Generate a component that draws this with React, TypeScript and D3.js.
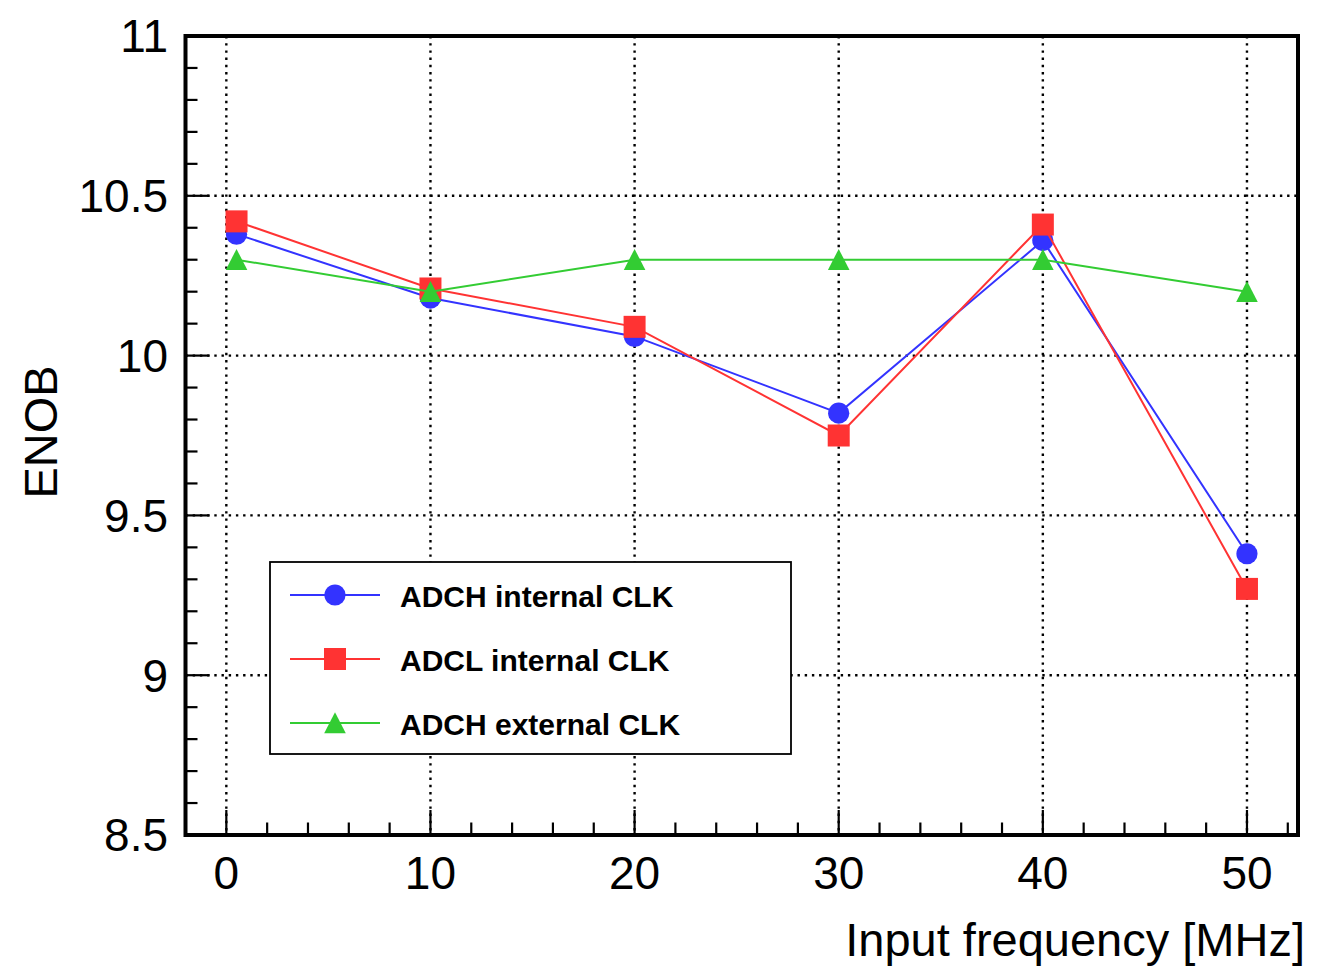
import React from "react";
import * as d3 from "d3";

const freqs = [0.5, 10, 20, 30, 40, 50];
const adchInternal = [10.38, 10.18, 10.06, 9.82, 10.36, 9.38];
const adclInternal = [10.42, 10.21, 10.09, 9.75, 10.41, 9.27];
const adchExternal = [10.3, 10.2, 10.3, 10.3, 10.3, 10.2];
const xTickLabels = [0, 10, 20, 30, 40, 50];
const yTickLabels = [8.5, 9, 9.5, 10, 10.5, 11];
const legendLabels = ["ADCH internal CLK", "ADCL internal CLK", "ADCH external CLK"];

const W = 1324;
const H = 970;
const L = 185.5, R = 1298, T = 36, B = 835;

const BLUE = "#3333ff";
const RED = "#ff3333";
const GREEN = "#33cc33";

function Marker({ kind, x, y, color }: { kind: string; x: number; y: number; color: string }) {
  if (kind === "circle") return <circle cx={x} cy={y} r={10.6} fill={color} />;
  if (kind === "square") return <rect x={x - 11} y={y - 11} width={22} height={22} fill={color} />;
  return (
    <path d={`M${x},${y - 10.8}L${x + 10.8},${y + 10.3}L${x - 10.8},${y + 10.3}Z`} fill={color} />
  );
}

export default function App() {
  const x = d3.scaleLinear().domain([-2, 52.5]).range([L, R]);
  const y = d3.scaleLinear().domain([8.5, 11]).range([B, T]);
  const series = [
    { vals: adchInternal, color: BLUE, kind: "circle" },
    { vals: adclInternal, color: RED, kind: "square" },
    { vals: adchExternal, color: GREEN, kind: "triangle" },
  ];
  const line = d3
    .line<number>()
    .x((_, i) => x(freqs[i]))
    .y((d) => y(d));

  const xMinor = d3.range(0, 53, 2);
  const yMinor = d3.range(85, 111, 1).map((v) => v / 10);
  const gridX = xTickLabels;
  const gridY = [9, 9.5, 10, 10.5];
  const font = "'Liberation Sans', Arial, Helvetica, sans-serif";

  const legX = 270, legY = 562, legW = 521, legH = 192;
  const rowYs = [595, 659, 723];

  return (
    <svg width={W} height={H} style={{ position: "absolute", left: 0, top: 0 }} fontFamily={font}>
      <rect width={W} height={H} fill="#fff" />
      {/* grid */}
      <g stroke="#000" strokeWidth={2.4} strokeDasharray="2.4 4.8">
        {gridX.map((v) => (
          <line key={"gx" + v} x1={x(v)} x2={x(v)} y1={T} y2={B} />
        ))}
        {gridY.map((v) => (
          <line key={"gy" + v} x1={L} x2={R} y1={y(v)} y2={y(v)} />
        ))}
      </g>
      {/* ticks */}
      <g stroke="#000" strokeWidth={2.2}>
        {xMinor.map((v) => (
          <line key={"xt" + v} x1={x(v)} x2={x(v)} y1={B} y2={B - (v % 10 === 0 ? 25 : 12.5)} />
        ))}
        {yMinor.map((v) => (
          <line
            key={"yt" + v}
            x1={L}
            x2={L + (Math.round(v * 10) % 5 === 0 ? 24 : 12)}
            y1={y(v)}
            y2={y(v)}
          />
        ))}
      </g>
      {/* data */}
      {series.map((s, si) => (
        <g key={si}>
          <path d={line(s.vals) || ""} fill="none" stroke={s.color} strokeWidth={2} />
          {s.vals.map((v, i) => (
            <Marker key={i} kind={s.kind} x={x(freqs[i])} y={y(v)} color={s.color} />
          ))}
        </g>
      ))}
      {/* frame */}
      <rect x={L} y={T} width={R - L} height={B - T} fill="none" stroke="#000" strokeWidth={4} />
      {/* tick labels */}
      <g fontSize={46} fill="#000">
        {xTickLabels.map((v) => (
          <text key={"xl" + v} x={x(v)} y={889} textAnchor="middle">
            {v}
          </text>
        ))}
        {yTickLabels.map((v) => (
          <text key={"yl" + v} x={168} y={y(v) + 16.4} textAnchor="end">
            {v}
          </text>
        ))}
      </g>
      {/* axis titles */}
      <text x={1305} y={956} fontSize={47} textAnchor="end" fill="#000">
        Input frequency [MHz]
      </text>
      <text
        transform={`translate(57,432) rotate(-90)`}
        fontSize={47}
        textAnchor="middle"
        fill="#000"
      >
        ENOB
      </text>
      {/* legend */}
      <rect x={legX} y={legY} width={legW} height={legH} fill="#fff" stroke="#000" strokeWidth={1.8} />
      {series.map((s, i) => (
        <g key={"lg" + i}>
          <line x1={290} x2={380} y1={rowYs[i]} y2={rowYs[i]} stroke={s.color} strokeWidth={2} />
          <Marker kind={s.kind} x={335} y={rowYs[i]} color={s.color} />
          <text x={400} y={rowYs[i] + 11.5} fontSize={30} fontWeight="bold" fill="#000">
            {legendLabels[i]}
          </text>
        </g>
      ))}
    </svg>
  );
}
